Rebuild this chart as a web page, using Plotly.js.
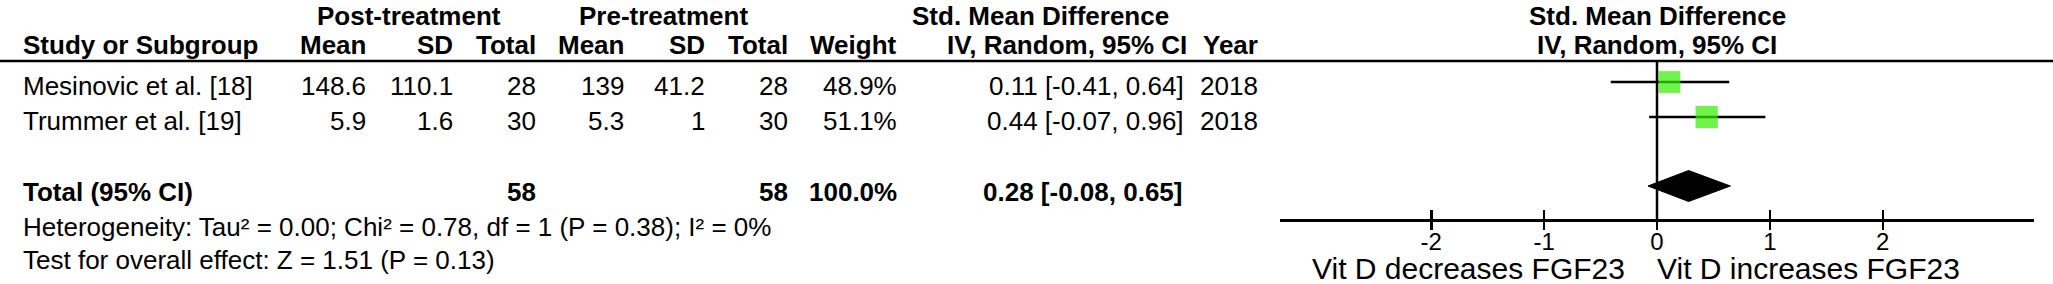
<!DOCTYPE html>
<html>
<head>
<meta charset="utf-8">
<script src="https://cdn.plot.ly/plotly-3.0.1.min.js"></script>
<style>
html,body{margin:0;padding:0;background:#fff;}
#chart{width:2053px;height:284px;}
</style>
</head>
<body>
<div id="chart"></div>
<script>
// ---- data ----
const studies = ["Mesinovic et al. [18]", "Trummer et al. [19]"];
const postMean = ["148.6", "5.9"];
const postSD = ["110.1", "1.6"];
const postN = [28, 30];
const preMean = ["139", "5.3"];
const preSD = ["41.2", "1"];
const preN = [28, 30];
const weights = [48.9, 51.1];
const smd = [0.11, 0.44];
const ciLow = [-0.41, -0.07];
const ciHigh = [0.64, 0.96];
const years = [2018, 2018];

const totalLabel = "Total (95% CI)";
const totalPostN = 58;
const totalPreN = 58;
const totalWeight = "100.0%";
const totalSmd = 0.28;
const totalLow = -0.08;
const totalHigh = 0.65;

const heterogeneityText = "Heterogeneity: Tau² = 0.00; Chi² = 0.78, df = 1 (P = 0.38); I² = 0%";
const overallText = "Test for overall effect: Z = 1.51 (P = 0.13)";

const tickVals = [-2, -1, 0, 1, 2];
const tickText = ["-2", "-1", "0", "1", "2"];
const leftLabel = "Vit D decreases FGF23";
const rightLabel = "Vit D increases FGF23";

// ---- layout constants (pixels) ----
const W = 2053, H = 284;
const FONT = "Liberation Sans, Arial, Helvetica, sans-serif";
const FS = 26;
const rowText = [85.5, 120.5];
const rowMark = [82, 117];
const yHead2 = 45, yLine = 61;
const yTotal = 192, yDiamond = 186, yHet = 227, yTest = 260;
const yAxis = 220;
const plotL = 1280, plotR = 2034;
const xr = [-3.34, 3.34];

function f2(v){ return v.toFixed(2); }
function ciStr(e,l,h){ return f2(e) + " [" + f2(l) + ", " + f2(h) + "]"; }

const annotations = [];
function ann(text, xpx, ypx, anchor, bold, size, yanchor){
  annotations.push({
    text: bold ? "<b>" + text + "</b>" : text,
    xref: "paper", yref: "y",
    x: xpx / W, y: ypx,
    xanchor: anchor, yanchor: yanchor || "middle",
    borderpad: yanchor === "top" ? 0 : 1,
    showarrow: false,
    font: {family: FONT, size: size || FS, color: "#000"}
  });
}

// column right edges
const cStudy = 21, cPM = 368, cPS = 455, cPN = 538, cMM = 626, cMS = 707, cMN = 790, cW = 899, cCI = 1186, cY = 1260;
const plotCenter = plotL + (0 - xr[0]) / (xr[1] - xr[0]) * (plotR - plotL);

// headers (top row anchored to the top edge)
ann("Post-treatment", 409, 0, "center", true, FS, "top");
ann("Pre-treatment", 663, 0, "center", true, FS, "top");
ann("Std. Mean Difference", 1040, 0, "center", true, FS, "top");
ann("Std. Mean Difference", plotCenter, 0, "center", true, FS, "top");
ann("Study or Subgroup", cStudy, yHead2, "left", true);
ann("Mean", cPM, yHead2, "right", true);
ann("SD", cPS, yHead2, "right", true);
ann("Total", cPN, yHead2, "right", true);
ann("Mean", cMM, yHead2, "right", true);
ann("SD", cMS, yHead2, "right", true);
ann("Total", cMN, yHead2, "right", true);
ann("Weight", cW, yHead2, "right", true);
ann("IV, Random, 95% CI", cCI + 3, yHead2, "right", true);
ann("Year", cY, yHead2, "right", true);
ann("IV, Random, 95% CI", plotCenter, yHead2, "center", true);

// study rows
studies.forEach((s, i) => {
  const y = rowText[i];
  ann(s, cStudy, y, "left", false);
  ann(postMean[i], cPM, y, "right", false);
  ann(postSD[i], cPS, y, "right", false);
  ann(String(postN[i]), cPN, y, "right", false);
  ann(preMean[i], cMM, y, "right", false);
  ann(preSD[i], cMS, y, "right", false);
  ann(String(preN[i]), cMN, y, "right", false);
  ann(weights[i].toFixed(1) + "%", cW, y, "right", false);
  ann(ciStr(smd[i], ciLow[i], ciHigh[i]), cCI, y, "right", false);
  ann(String(years[i]), cY, y, "right", false);
});

// total row
ann(totalLabel, cStudy, yTotal, "left", true);
ann(String(totalPostN), cPN, yTotal, "right", true);
ann(String(totalPreN), cMN, yTotal, "right", true);
ann(totalWeight, cW, yTotal, "right", true);
ann(ciStr(totalSmd, totalLow, totalHigh), cCI - 2, yTotal, "right", true);
ann(heterogeneityText, cStudy, yHet, "left", false);
ann(overallText, cStudy, yTest, "left", false);

// favour labels
ann(leftLabel, plotCenter - 30, 268, "right", false, 30);
ann(rightLabel, plotCenter - 2, 268, "left", false, 30);

// ---- traces ----
const traces = [];
studies.forEach((s, i) => {
  traces.push({
    x: [ciLow[i], ciHigh[i]], y: [rowMark[i], rowMark[i]],
    mode: "lines", line: {color: "#000", width: 2.5},
    hoverinfo: "skip", showlegend: false, xaxis: "x", yaxis: "y"
  });
});
traces.push({
  x: smd, y: rowMark,
  mode: "markers",
  marker: {symbol: "square", color: "#33ee00", size: weights.map(w => 22 * Math.sqrt(w / 50)), line: {width: 0}},
  hoverinfo: "skip", showlegend: false, xaxis: "x", yaxis: "y"
});
const dh = 15.5;
traces.push({
  x: [totalLow, totalSmd, totalHigh, totalSmd, totalLow],
  y: [yDiamond, yDiamond - dh, yDiamond, yDiamond + dh, yDiamond],
  mode: "lines", fill: "toself", fillcolor: "#000",
  line: {color: "#000", width: 1},
  hoverinfo: "skip", showlegend: false, xaxis: "x2", yaxis: "y"
});

const axPos = 1 - yAxis / H;
const layout = {
  width: W, height: H,
  margin: {l: 0, r: 0, t: 0, b: 0, pad: 0},
  paper_bgcolor: "#fff", plot_bgcolor: "rgba(0,0,0,0)",
  showlegend: false,
  xaxis: {
    domain: [plotL / W, plotR / W], range: xr,
    anchor: "free", position: axPos,
    showline: true, linecolor: "#000", linewidth: 2.5,
    ticks: "inside", ticklen: 9, tickwidth: 2.5, tickcolor: "#000",
    tickvals: tickVals, ticktext: tickText,
    tickfont: {family: FONT, size: 24, color: "#000"},
    ticklabelstandoff: 0,
    showgrid: false, zeroline: false, fixedrange: true
  },
  xaxis2: {
    domain: [plotL / W, plotR / W], range: xr,
    overlaying: "x", anchor: "free", position: axPos,
    showline: false,
    ticks: "outside", ticklen: 9, tickwidth: 2.5, tickcolor: "#000",
    tickvals: tickVals, showticklabels: false,
    showgrid: false, zeroline: false, fixedrange: true
  },
  yaxis: {
    domain: [0, 1], range: [H, 0], visible: false,
    showgrid: false, zeroline: false, fixedrange: true
  },
  shapes: [
    {type: "line", xref: "paper", yref: "y", x0: 0, x1: 1, y0: yLine, y1: yLine, line: {color: "#000", width: 2.5}},
    {type: "line", xref: "x", yref: "y", x0: 0, x1: 0, y0: yLine, y1: yAxis, line: {color: "#000", width: 2.5}}
  ],
  annotations: annotations
};

Plotly.newPlot("chart", traces, layout, {staticPlot: true, displayModeBar: false});
</script>
</body>
</html>
